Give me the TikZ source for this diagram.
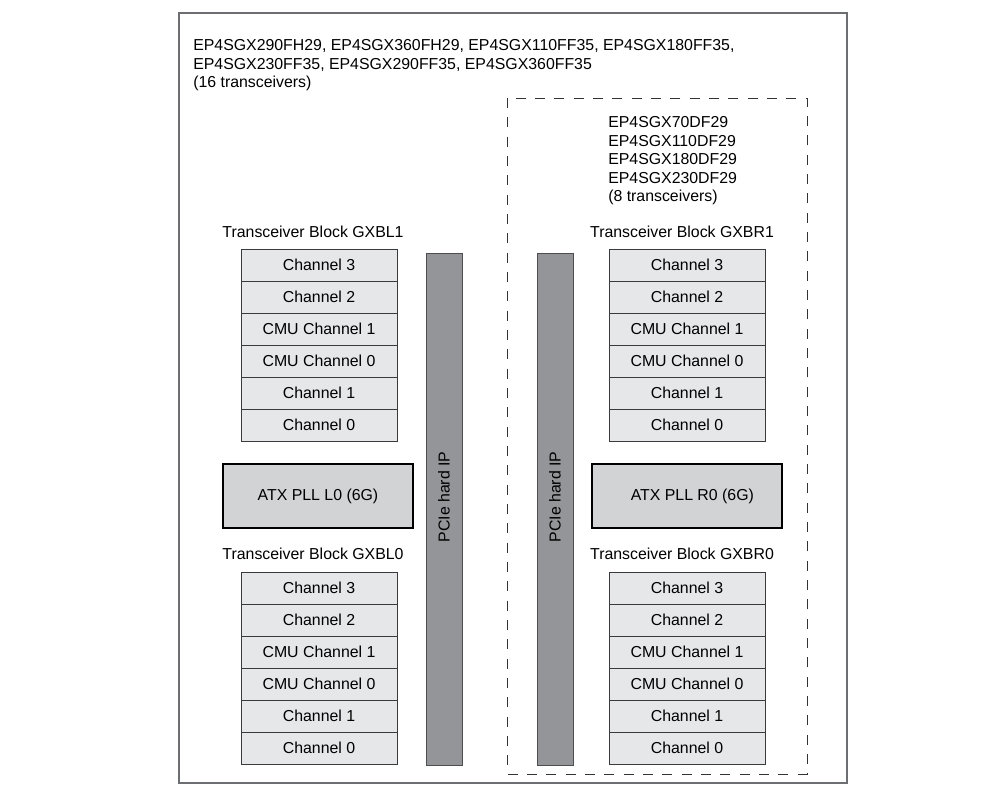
\documentclass[tikz,border=0pt]{standalone}
\usepackage{fontspec}
\setmainfont{Liberation Sans}
\usetikzlibrary{positioning}
\definecolor{chanfill}{HTML}{E6E7E8}
\definecolor{chanline}{HTML}{3A3A3C}
\definecolor{atxfill}{HTML}{D1D3D4}
\definecolor{pciefill}{HTML}{939598}
\definecolor{pcieline}{HTML}{4D4D4F}
\definecolor{frameline}{HTML}{6D6E71}
\tikzset{%
  % Specifications for style of nodes:
        base/.style = {rectangle, draw=chanline, line width=0.6pt,
                       inner sep=0pt, outer sep=0pt, text centered,
                       font=\fontsize{11.9}{13.8}\selectfont},
     channel/.style = {base, fill=chanfill, minimum width=117pt,
                       minimum height=24pt},
      atxpll/.style = {base, draw=black, line width=0.9pt, fill=atxfill,
                       minimum width=142.5pt, minimum height=48pt},
        pcie/.style = {base, draw=pcieline, fill=pciefill, rotate=90,
                       minimum width=384pt, minimum height=27pt},
   pcietext/.style = {rotate=90, xshift=9pt, inner sep=0pt,
                       font=\fontsize{11.9}{13.8}\selectfont},
  blocktitle/.style = {inner sep=0pt, font=\fontsize{11.9}{13.8}\selectfont},
    parttext/.style = {blocktitle, align=left, anchor=north west},
}

\begin{document}
\begin{tikzpicture}[x=0.75pt, y=-0.75pt]
\useasboundingbox (0,0) rectangle (1005,791);

% frames
\draw[frameline, line width=0.8pt] (179,13) rectangle (847,783);
\draw[black!80, line width=0.6pt, dash pattern=on 7.5pt off 7pt] (507,98) rectangle (807,774);

% device lists
\node (alldev) [parttext] at (193,39.5)
  {EP4SGX290FH29, EP4SGX360FH29, EP4SGX110FF35, EP4SGX180FF35,\\
   EP4SGX230FF35, EP4SGX290FF35, EP4SGX360FF35\\
   (16 transceivers)};
\node (dfdev) [parttext] at (608,116.5)
  {EP4SGX70DF29\\EP4SGX110DF29\\EP4SGX180DF29\\EP4SGX230DF29\\(8 transceivers)};

% PCIe hard IP
\node (pcieL) [pcie, label={[pcietext]center:PCIe hard IP}] at (444,509) {};
\node (pcieR) [pcie, label={[pcietext]center:PCIe hard IP}] at (555,509) {};

% transceiver blocks
\node (GXBL1) [blocktitle] at (313,232) {Transceiver Block GXBL1};
\node (GXBR1) [blocktitle] at (682,232) {Transceiver Block GXBR1};
\node (GXBL0) [blocktitle] at (313,554) {Transceiver Block GXBL0};
\node (GXBR0) [blocktitle] at (682,554) {Transceiver Block GXBR0};

\foreach \lab [count=\i from 0] in {Channel 3, Channel 2, CMU Channel 1,
                                    CMU Channel 0, Channel 1, Channel 0} {
  \node (L1ch\i) [channel] at (319,265+32*\i) {\lab};
  \node (R1ch\i) [channel] at (687,265+32*\i) {\lab};
  \node (L0ch\i) [channel] at (319,588+32*\i) {\lab};
  \node (R0ch\i) [channel] at (687,588+32*\i) {\lab};
}

% ATX PLLs
\node (atxL) [atxpll] at (318,496) {ATX PLL L0 (6G)};
\node (atxR) [atxpll] at (687,496) {\hspace*{8pt}ATX PLL R0 (6G)};
  \end{tikzpicture}
\end{document}
